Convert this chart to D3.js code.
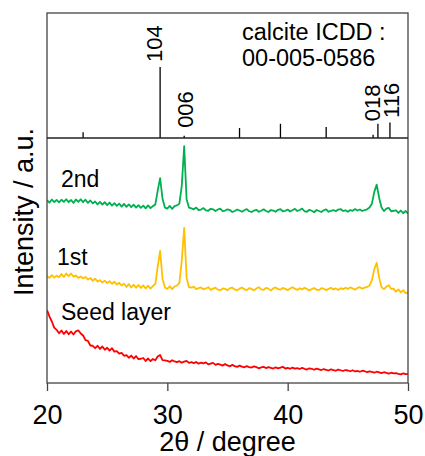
<!DOCTYPE html>
<html>
<head>
<meta charset="utf-8">
<script src="https://cdn.jsdelivr.net/npm/d3@7"></script>
<style>
  html, body { margin: 0; padding: 0; background: #fff; }
  svg { display: block; font-family: "Liberation Sans", Arial, sans-serif; }
</style>
</head>
<body>
<svg id="chart" width="425" height="456"></svg>
<script>
// ---------- DATA ----------
// 2θ grid: 20.0 → 50.0 in 0.2° steps (151 points)
const angles = d3.range(151).map(i => +(20 + i * 0.2).toFixed(1));

const series2nd = [
  74.6, 73.6, 74.9, 73.8, 74.7,  73.7, 74.8, 73.9, 75.0, 73.8,
  74.7, 73.5, 74.9, 73.9, 75.0,  73.8, 74.8, 73.5, 74.5, 73.3,
  74.1, 72.9, 73.9, 72.8, 73.8,  72.6, 73.6, 72.4, 73.4, 72.3,
  73.2, 72.0, 73.1, 71.9, 72.9,  71.8, 72.8, 71.6, 72.6, 71.5,
  72.4, 71.3, 72.5, 71.4, 72.2,  72.8, 78.5, 83.6, 75.2, 71.6,
  71.2, 72.3, 71.1, 72.2, 72.5,  73.2, 80.5, 96.7, 75.0, 71.6,
  71.3, 70.9, 71.6, 70.6, 70.8,  71.4, 70.5, 70.3, 71.1, 70.9,
  70.2, 70.8, 71.2, 70.1, 70.4,  70.9, 70.6, 69.8, 70.2, 70.8,
  70.4, 69.9, 70.5, 71.0, 70.1,  69.8, 70.4, 70.7, 69.9, 70.3,
  70.9, 70.2, 69.8, 70.6, 70.4,  69.9, 70.7, 71.0, 70.1, 70.3,
  70.8, 70.0, 70.5, 71.1, 70.2,  70.6, 71.2, 70.1, 69.9, 70.7,
  70.3, 69.7, 70.6, 70.2, 69.8,  70.5, 70.9, 69.9, 70.3, 70.6,
  70.1, 70.8, 71.0, 70.2, 70.5,  69.9, 70.6, 70.3, 71.0, 70.4,
  70.8, 70.2, 70.6, 70.9, 71.6,  73.2, 78.0, 81.0, 75.6, 71.6,
  70.2, 71.2, 71.5, 70.1, 70.3,  70.5, 69.4, 70.4, 69.3, 70.2,
  69.1
];

const series1st = [
  43.7, 42.9, 44.0, 43.0, 43.8,  43.2, 44.5, 43.3, 44.7, 43.6,
  44.7, 43.4, 43.9, 42.9, 43.5,  42.7, 43.3, 42.2, 42.9, 41.7,
  42.6, 41.4, 42.0, 41.0, 41.8,  40.8, 41.6, 40.5, 41.3, 40.2,
  40.9, 39.8, 40.5, 39.2, 40.4,  39.0, 40.1, 38.9, 40.0, 38.8,
  39.8, 38.6, 39.7, 38.5, 39.6,  40.4, 47.5, 53.9, 42.5, 39.0,
  38.4, 39.5, 38.3, 39.4, 39.8,  40.8, 50.0, 63.3, 43.0, 39.1,
  38.9, 39.3, 38.3, 38.7, 39.0,  38.2, 38.6, 39.1, 38.0, 38.5,
  38.9, 38.1, 37.8, 38.6, 38.4,  37.9, 38.7, 38.9, 38.2, 37.8,
  38.5, 39.0, 38.3, 37.9, 38.7,  38.4, 37.8, 38.6, 39.1, 38.2,
  38.0, 38.8, 38.5, 37.7, 38.6,  39.0, 38.3, 38.1, 38.8, 38.4,
  37.9, 38.6, 39.1, 38.5, 38.0,  38.7, 38.2, 38.9, 38.4, 37.8,
  38.3, 38.8, 38.1, 37.9, 38.7,  38.5, 37.9, 38.4, 38.9, 38.2,
  38.6, 38.0, 38.7, 38.3, 38.9,  38.4, 39.0, 38.6, 38.1, 38.8,
  39.1, 38.5, 38.9, 39.2, 39.8,  42.0, 46.5, 49.0, 43.0, 39.1,
  38.3, 39.3, 39.9, 38.4, 38.5,  37.3, 38.2, 37.0, 37.9, 36.7,
  36.9
];

const seriesSeed = [
  29.8, 27.2, 25.1, 22.6, 21.7,  20.3, 21.4, 20.0, 21.2, 19.9,
  21.0, 19.8, 21.1, 21.5, 20.2,  19.4, 17.5, 17.2, 15.3, 15.2,
  14.2, 15.2, 13.9, 14.9, 13.6,  14.4, 13.2, 14.2, 12.8, 13.0,
  12.0, 12.3, 11.1, 11.4, 10.3,  11.2, 10.0, 11.0, 9.7, 9.9,
  10.2, 9.0, 10.0, 8.9, 9.8,     9.3, 10.8, 11.4, 9.3, 9.2,
  9.0, 8.6, 9.3, 8.8, 8.5,       8.9, 8.3, 8.7, 9.0, 8.2,
  8.5, 8.1, 8.6, 7.9, 8.3,       8.0, 8.4, 7.6, 7.9, 8.2,
  7.4, 7.8, 7.5, 7.1, 7.7,       7.2, 6.8, 7.4, 6.9, 6.6,
  7.1, 6.7, 6.4, 6.9, 6.5,       6.3, 6.8, 6.5, 6.0, 6.4,
  6.6, 6.1, 6.5, 6.2, 5.9,       6.4, 6.0, 6.3, 6.6, 5.9,
  6.2, 5.8, 6.3, 5.9, 6.1,       5.7, 6.2, 5.8, 5.5, 6.0,
  5.8, 5.4, 5.9, 5.6, 5.3,       5.7, 5.4, 5.1, 5.6, 5.3,
  5.0, 5.5, 5.2, 4.9, 5.3,       5.1, 4.8, 5.2, 4.7, 4.9,
  4.6, 5.0, 4.8, 4.4, 4.7,       4.5, 4.2, 4.6, 4.3, 4.0,
  4.4, 4.1, 3.8, 4.2, 3.9,       4.0, 3.7, 3.5, 3.9, 3.6,
  3.7
];

const seriesNames = ["2nd", "1st", "Seed layer"];
const seriesColors = ["#00b050", "#ffc000", "#ff0000"];

// Calcite ICDD 00-005-0586 reference pattern
const refAngles      = [23.0, 29.4, 31.4, 36.0, 39.4, 43.2, 47.1, 47.5, 48.5];
const refIntensities = [8, 100, 3, 14, 20, 15.5, 4.6, 20, 22];
const refLabels      = ["", "104", "006", "", "", "", "", "018", "116"];

const xTicks = [20, 30, 40, 50];

// ---------- LAYOUT ----------
const L = 47, R = 408, T = 13, MID = 138, B = 383;
const svg = d3.select("#chart");

const x = d3.scaleLinear().domain([20, 50]).range([L, R]);
const yTop = d3.scaleLinear().domain([0, 176]).range([MID, T]);
const yBot = d3.scaleLinear().domain([0, 100]).range([B, MID]);

svg.append("defs").append("clipPath").attr("id", "clipB")
  .append("rect").attr("x", L).attr("y", MID).attr("width", R - L).attr("height", B - MID);

// series lines
const allSeries = [series2nd, series1st, seriesSeed];
const line = d3.line().x((d, i) => x(angles[i])).y(d => yBot(d));
svg.append("g").attr("clip-path", "url(#clipB)")
  .selectAll("path").data(allSeries).join("path")
  .attr("d", d => line(d))
  .attr("fill", "none")
  .attr("stroke", (d, i) => seriesColors[i])
  .attr("stroke-width", 1.8)
  .attr("stroke-linejoin", "round");

// reference sticks
svg.append("g").selectAll("line").data(refAngles).join("line")
  .attr("x1", d => x(d)).attr("x2", d => x(d))
  .attr("y1", yTop(0)).attr("y2", (d, i) => yTop(refIntensities[i]))
  .attr("stroke", "#000").attr("stroke-width", 1.3);

// stick labels (rotated)
const labelDx = {"104": 2, "006": 9, "018": 2.4, "116": 8.7};
const labelGap = {"104": 5, "006": 8, "018": 2.5, "116": 4.5};
svg.append("g").selectAll("text")
  .data(refAngles.map((a, i) => ({a, h: refIntensities[i], t: refLabels[i]})).filter(d => d.t))
  .join("text")
  .attr("transform", d => `translate(${x(d.a) + labelDx[d.t]},${yTop(d.h) - labelGap[d.t]}) rotate(-90)`)
  .attr("font-size", 22).attr("fill", "#000")
  .text(d => d.t);

// frame
svg.append("rect").attr("x", L).attr("y", T).attr("width", R - L).attr("height", B - T)
  .attr("fill", "none").attr("stroke", "#444").attr("stroke-width", 1.3);
svg.append("line").attr("x1", L).attr("x2", R).attr("y1", MID).attr("y2", MID)
  .attr("stroke", "#222").attr("stroke-width", 1.3);

// x axis
const xAxis = d3.axisBottom(x).tickValues(xTicks).tickSize(8).tickPadding(14).tickFormat(d3.format("d"));
const gx = svg.append("g").attr("transform", `translate(0,${B})`).call(xAxis);
gx.select(".domain").remove();
gx.selectAll(".tick line").attr("stroke", "#444").attr("stroke-width", 1.3);
gx.selectAll(".tick text").attr("font-size", 27).attr("fill", "#000")
  .attr("font-family", "Liberation Sans, Arial, sans-serif");

// axis titles
svg.append("text").attr("x", (L + R) / 2).attr("y", 451).attr("text-anchor", "middle")
  .attr("font-size", 27).attr("fill", "#000").text("2θ / degree");
svg.append("text").attr("transform", "translate(33,212) rotate(-90)").attr("text-anchor", "middle")
  .attr("font-size", 27).attr("fill", "#000").text("Intensity / a.u.");

// ICDD annotation
svg.append("text").attr("x", 242).attr("y", 40).attr("font-size", 23.5).attr("fill", "#000").text("calcite ICDD :");
svg.append("text").attr("x", 242).attr("y", 66).attr("font-size", 23.5).attr("fill", "#000").text("00-005-0586");

// series labels
const labelPos = [[61, 187], [57, 265], [61, 320]];
svg.append("g").selectAll("text").data(seriesNames).join("text")
  .attr("x", (d, i) => labelPos[i][0]).attr("y", (d, i) => labelPos[i][1])
  .attr("font-size", 23).attr("fill", "#000").text(d => d);
</script>
</body>
</html>
